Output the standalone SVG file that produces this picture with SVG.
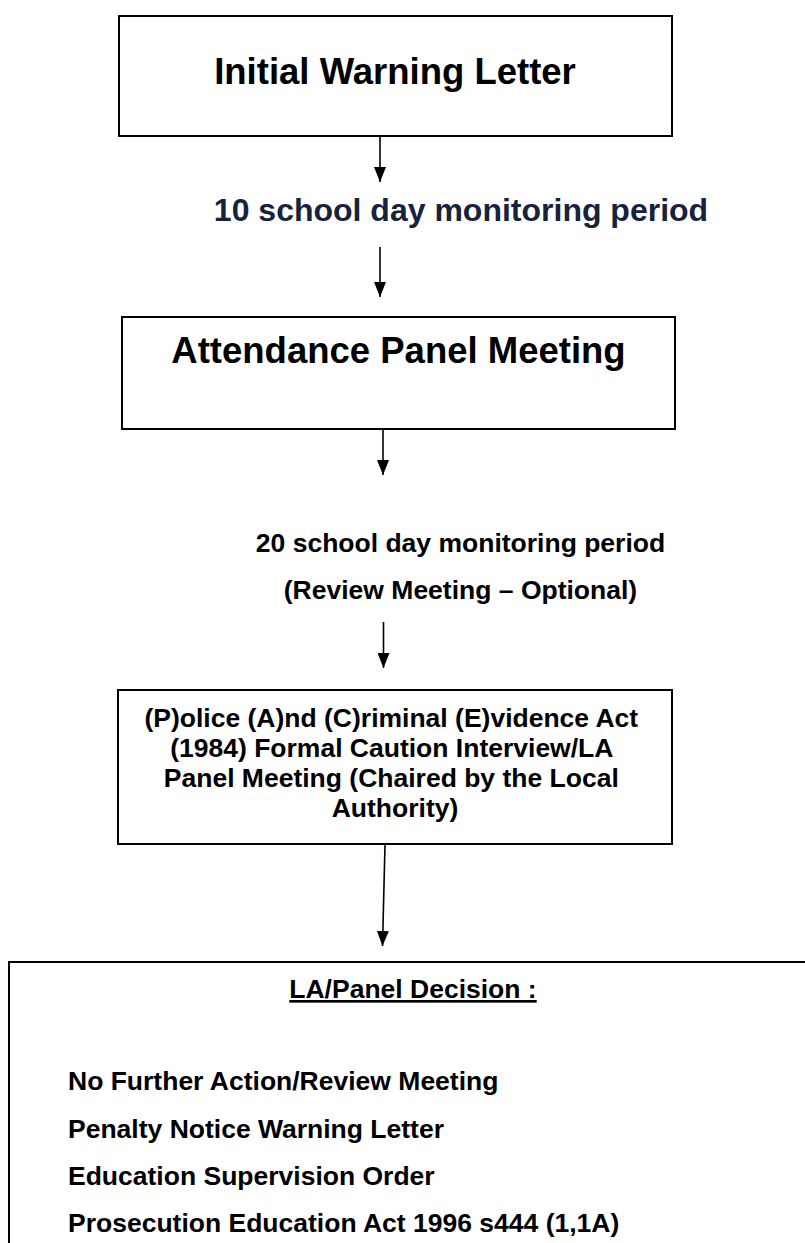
<svg xmlns="http://www.w3.org/2000/svg" width="805" height="1243" viewBox="0 0 805 1243">
<defs>
<style>
.box{fill:#fff;stroke:#000;stroke-width:2}
.t{font-family:"Liberation Sans",Arial,sans-serif;font-weight:bold;fill:#000}
.big{font-size:36.5px}
.mid{font-size:26.5px}
.conn line{stroke:#000;stroke-width:1.6}
</style>
<marker id="ah" viewBox="0 0 15 12" refX="15" refY="6" markerWidth="15" markerHeight="12" markerUnits="userSpaceOnUse" orient="auto">
<path d="M0,0 L15,6 L0,12 Z" fill="#000"/>
</marker>
</defs>
<rect width="805" height="1243" fill="#fff"/>
<g id="node-initial">
<rect class="box" x="119" y="16" width="553" height="120"/>
<text class="t big" x="395" y="84" text-anchor="middle">Initial Warning Letter</text>
</g>
<g id="label-10day">
<text class="t" x="461" y="221" text-anchor="middle" font-size="32" style="fill:#17223b">10 school day monitoring period</text>
</g>
<g id="node-panel">
<rect class="box" x="122" y="317" width="553" height="112"/>
<text class="t big" x="398.5" y="363" text-anchor="middle">Attendance Panel Meeting</text>
</g>
<g id="label-20day">
<text class="t mid" x="460.5" y="552" text-anchor="middle">20 school day monitoring period</text>
<text class="t mid" x="460.5" y="599" text-anchor="middle">(Review Meeting – Optional)</text>
</g>
<g id="node-pace">
<rect class="box" x="118" y="690" width="554" height="154"/>
<text class="t mid" text-anchor="middle">
<tspan x="395" y="727">(P)olice (A)nd (C)riminal (E)vidence Act</tspan>
<tspan x="395" y="757">(1984) Formal Caution Interview/LA</tspan>
<tspan x="395" y="787">Panel Meeting (Chaired by the Local</tspan>
<tspan x="395" y="817">Authority)</tspan>
</text>
</g>
<g id="node-decision">
<rect class="box" x="9" y="962" width="850" height="400"/>
<text class="t mid" x="413" y="998" text-anchor="middle" text-decoration="underline">LA/Panel Decision :</text>
<text class="t mid" x="68" y="1090">No Further Action/Review Meeting</text>
<text class="t mid" x="68" y="1138">Penalty Notice Warning Letter</text>
<text class="t mid" x="68" y="1185">Education Supervision Order</text>
<text class="t mid" x="68" y="1232">Prosecution Education Act 1996 s444 (1,1A)</text>
</g>
<g id="connectors" class="conn">
<line x1="380" y1="137" x2="380" y2="182" marker-end="url(#ah)"/>
<line x1="380" y1="247" x2="380" y2="297" marker-end="url(#ah)"/>
<line x1="383" y1="430" x2="383" y2="475" marker-end="url(#ah)"/>
<line x1="383.5" y1="622" x2="383.5" y2="668" marker-end="url(#ah)"/>
<line x1="385" y1="845" x2="382.5" y2="946" marker-end="url(#ah)"/>
</g>
</svg>
